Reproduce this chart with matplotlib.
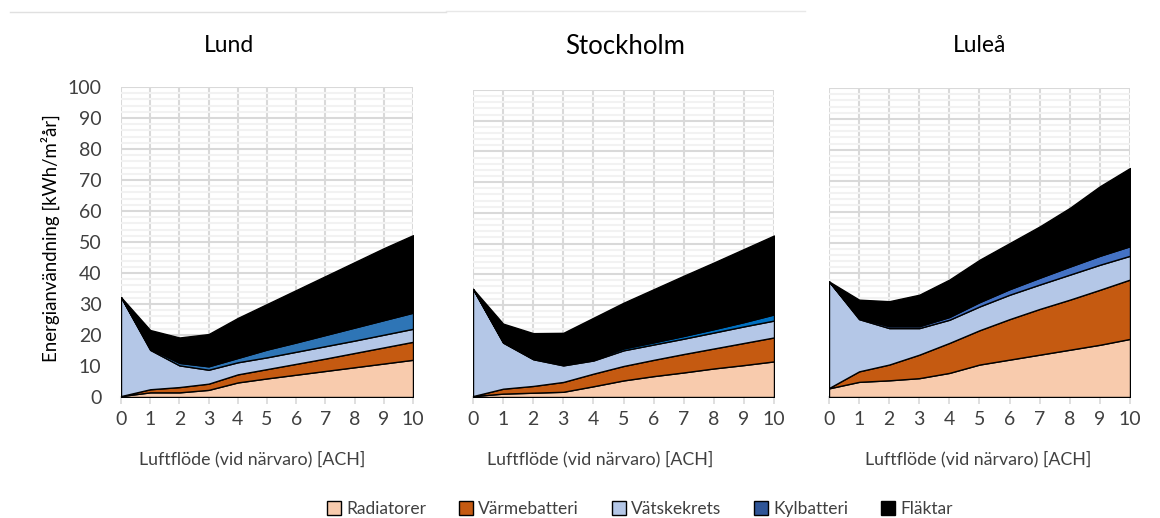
import matplotlib
matplotlib.use('Agg')
import matplotlib.pyplot as plt
from matplotlib.patches import Patch
from matplotlib.lines import Line2D
from matplotlib.ticker import MultipleLocator

plt.rcParams['font.family'] = ['Lato', 'DejaVu Sans']

# ACH (air changes per hour)
ach = [0, 1, 2, 3, 4, 5, 6, 7, 8, 9, 10]

series_names = ['Radiatorer', 'Värmebatteri', 'Vätskekrets', 'Kylbatteri', 'Fläktar']

# Lund [kWh/m2 year], stacked components
lund_rad = [0.3, 1.5, 1.5, 2.3, 4.7, 6.0, 7.2, 8.4, 9.6, 10.8, 12.0]
lund_varme = [0.0, 1.0, 1.7, 2.0, 2.6, 3.0, 3.5, 4.0, 4.6, 5.2, 5.8]
lund_vatske = [31.9, 12.7, 7.0, 4.5, 3.9, 3.8, 3.9, 4.0, 4.0, 4.1, 4.2]
lund_kyl = [0.0, 0.4, 0.8, 1.1, 1.4, 2.5, 3.0, 3.6, 4.2, 4.7, 5.2]
lund_flakt = [0.0, 6.0, 8.2, 10.4, 12.9, 14.7, 16.9, 19.0, 21.1, 23.2, 25.0]

# Stockholm
sthlm_rad = [0.3, 1.1, 1.4, 1.7, 3.5, 5.4, 6.8, 8.0, 9.3, 10.4, 11.6]
sthlm_varme = [0.0, 1.6, 2.2, 3.2, 4.1, 4.7, 5.3, 6.0, 6.5, 7.2, 7.8]
sthlm_vatske = [34.9, 15.0, 8.7, 5.4, 4.3, 5.1, 5.0, 5.0, 5.2, 5.4, 5.5]
sthlm_kyl = [0.0, 0.2, 0.2, 0.4, 0.4, 0.6, 0.7, 0.9, 1.1, 1.4, 2.0]
sthlm_flakt = [0.0, 6.0, 8.3, 10.2, 13.5, 14.9, 17.3, 19.6, 21.7, 23.8, 25.7]

# Luleå
lulea_rad = [2.8, 4.9, 5.4, 6.1, 7.8, 10.5, 12.1, 13.7, 15.3, 16.9, 18.8]
lulea_varme = [0.1, 3.4, 5.1, 7.6, 9.7, 11.1, 13.1, 14.8, 16.2, 17.8, 19.2]
lulea_vatske = [34.5, 16.9, 11.8, 8.6, 7.5, 7.7, 7.9, 7.9, 8.1, 8.1, 7.7]
lulea_kyl = [0.0, 0.4, 0.6, 0.6, 0.9, 1.4, 1.8, 2.2, 2.6, 2.9, 3.1]
lulea_flakt = [0.0, 5.9, 8.1, 10.2, 12.1, 13.7, 14.9, 16.6, 19.0, 22.5, 25.3]

cities = ['Lund', 'Stockholm', 'Luleå']
city_data = [
    [lund_rad, lund_varme, lund_vatske, lund_kyl, lund_flakt],
    [sthlm_rad, sthlm_varme, sthlm_vatske, sthlm_kyl, sthlm_flakt],
    [lulea_rad, lulea_varme, lulea_vatske, lulea_kyl, lulea_flakt],
]

base_colors = ['#F8CBAD', '#C55A11', '#B4C7E7', None, '#000000']
kyl_colors = ['#2E75B6', '#0070C0', '#4472C4']
legend_colors = ['#F8CBAD', '#C55A11', '#B4C7E7', '#2F5597', '#000000']

# layout in pixels (figure is 1160x518)
W, H = 1160, 518
axes_px = [(121, 87, 413, 397), (473, 90, 774, 397), (829, 88, 1130, 397)]
title_x = [229, 625, 980]
title_size = [16.5, 18.5, 16.5]
xlabel_x = [252, 600, 978]

fig = plt.figure(figsize=(W / 100, H / 100), dpi=100)

for i, city in enumerate(cities):
    x0, y0, x1, y1 = axes_px[i]
    ax = fig.add_axes([x0 / W, 1 - y1 / H, (x1 - x0) / W, (y1 - y0) / H])
    colors = list(base_colors)
    colors[3] = kyl_colors[i]
    ax.stackplot(ach, *city_data[i], colors=colors, edgecolor='black',
                 linewidth=1.0, zorder=3)
    ax.set_xlim(0, 10)
    ax.set_ylim(0, 100)
    ax.xaxis.set_major_locator(MultipleLocator(1))
    ax.yaxis.set_major_locator(MultipleLocator(10))
    ax.yaxis.set_minor_locator(MultipleLocator(2))
    ax.grid(which='major', color='#D9D9D9', linewidth=1.5, zorder=0)
    ax.grid(which='minor', axis='y', color='#F2F2F2', linewidth=1.5, zorder=0)
    ax.set_axisbelow(True)
    for side in ['top', 'right', 'left']:
        ax.spines[side].set_visible(False)
    ax.spines['bottom'].set_color('#D9D9D9')
    ax.spines['bottom'].set_linewidth(1.5)
    ax.tick_params(axis='x', which='major', length=5, width=1.2, color='#D9D9D9',
                   labelsize=14, labelcolor='#404040', pad=5)
    ax.tick_params(axis='y', which='both', length=0, labelsize=14,
                   labelcolor='#404040', pad=14)
    if i > 0:
        ax.tick_params(axis='y', labelleft=False)
    fig.text(title_x[i] / W, 1 - 46 / H, city, ha='center', va='center',
             fontsize=title_size[i], color='#000000')
    fig.text(xlabel_x[i] / W, 1 - 459 / H, 'Luftflöde (vid närvaro) [ACH]',
             ha='center', va='center', fontsize=12.8, color='#404040')

fig.text(50 / W, 1 - 238 / H, 'Energianvändning [kWh/m²år]', rotation=90,
         ha='center', va='center', fontsize=13.4, color='#000000')

handles = [Patch(facecolor=c, edgecolor='black', linewidth=1.0) for c in legend_colors]
fig.legend(handles, series_names, loc='center', bbox_to_anchor=(640 / W, 1 - 509 / H),
           ncol=5, frameon=False, fontsize=12.5, handlelength=0.8, handleheight=0.8,
           handletextpad=0.3, columnspacing=1.9, labelcolor='#404040')

# thin frame edges at the top of the image
fig.add_artist(Line2D([10 / W, 446 / W], [1 - 12 / H, 1 - 12 / H], color='#E0E0E0', linewidth=1))
fig.add_artist(Line2D([446 / W, 805 / W], [1 - 11 / H, 1 - 11 / H], color='#E8E8E8', linewidth=1))

fig.savefig('out.png', dpi=100)
